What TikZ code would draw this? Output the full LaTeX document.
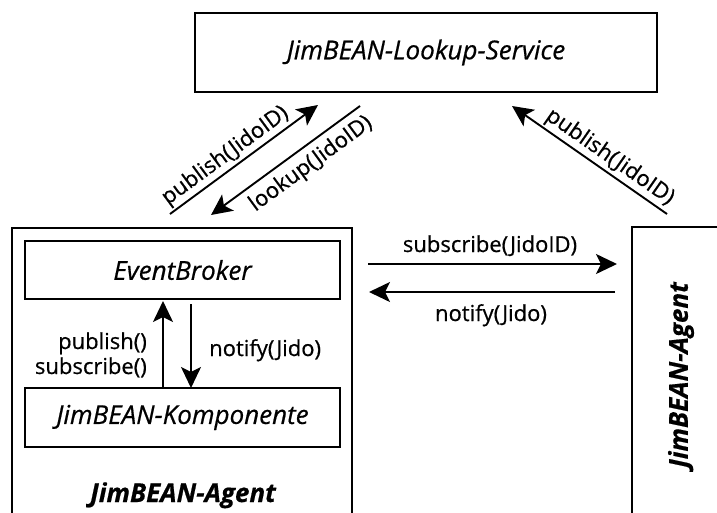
\documentclass[tikz,border=0pt]{standalone}
\usepackage{fontspec}
\setmainfont{Open Sans}[FakeBold=0.6]
\usetikzlibrary{arrows.meta}
\begin{document}
\begin{tikzpicture}[x=1pt,y=-1pt,
  lw/.style={line width=1.9pt},
  box/.style={draw, lw, rectangle, inner sep=0pt, outer sep=0pt},
  txt/.style={font=\fontsize{22}{26}\selectfont, inner sep=0pt},
  ital/.style={font=\fontsize{26}{30}\selectfont\itshape, inner sep=0pt},
  bital/.style={font=\fontsize{26}{30}\selectfont\bfseries\itshape, inner sep=0pt},
  tip/.style={},
  arr/.style={lw, -{Stealth[length=21pt,width=20pt,inset=5pt]}},
  rarr/.style={lw, {Stealth[length=21pt,width=20pt,inset=5pt]}-},
  dlbl/.style={font=\fontsize{22}{26}\selectfont, sloped, inner sep=2pt}
]
\useasboundingbox (0,0) rectangle (717,512);

% lookup service
\node[box, minimum width=462pt, minimum height=79pt] (lookup) at (426,52.5) {};
\node[ital] (lookuptxt) at (lookup.center) {JimBEAN-Lookup-Service};

% left agent
\draw[lw] (12,513) -- (12,228) -- (352,228) -- (352,513);
\node[box, minimum width=315pt, minimum height=58pt] (broker) at (182.5,270) {};
\node[ital] (brokertxt) at (broker.center) {EventBroker};
\node[box, minimum width=315pt, minimum height=59pt] (komp) at (182.5,417.5) {};
\node[ital] (komptxt) at (komp.center) {JimBEAN-Komponente};
\node[bital, anchor=base] (agentL) at (183,502) {JimBEAN-Agent};

% right agent
\draw[lw] (632,513) -- (632,227) -- (718,227);
\node[bital, rotate=90] (agentR) at (681,375) {JimBEAN-Agent};

% internal arrows
\coordinate (upA) at (163,388);
\coordinate (upB) at (163,301);
\coordinate (dnA) at (191,304);
\coordinate (dnB) at (191,388);
\draw[arr] (upA) -- (upB);
\draw[arr] (dnA) -- (dnB);
\node[txt, anchor=base east] (pub) at (147,349) {publish()};
\node[txt, anchor=base east] (sub) at (147,374) {subscribe()};
\node[txt, anchor=base west] (notI) at (209,356) {notify(Jido)};

% horizontal arrows
\coordinate (sA) at (368,264);
\coordinate (sB) at (617,264);
\coordinate (nA) at (615,292);
\coordinate (nB) at (369,292);
\draw[arr] (sA) -- (sB);
\draw[arr] (nA) -- (nB);
\node[txt, anchor=base] (subL) at (490,252) {subscribe(JidoID)};
\node[txt, anchor=base] (notL) at (491,321) {notify(Jido)};

% diagonal arrows
\coordinate (p1A) at (170,214);
\coordinate (p1B) at (318,105);
\coordinate (l1A) at (360,106);
\coordinate (l1B) at (211,215);
\coordinate (p2A) at (667,214);
\coordinate (p2B) at (512,106);
\draw[arr] (p1A) -- node[dlbl, above, pos=0.43] (p1L) {publish(JidoID)} (p1B);
\draw[rarr] (l1B) -- node[dlbl, below, pos=0.6, inner sep=6pt] (l1L) {lookup(JidoID)} (l1A);
\draw[rarr] (p2B) -- node[dlbl, above, pos=0.58] (p2L) {publish(JidoID)} (p2A);
\end{tikzpicture}
\end{document}
